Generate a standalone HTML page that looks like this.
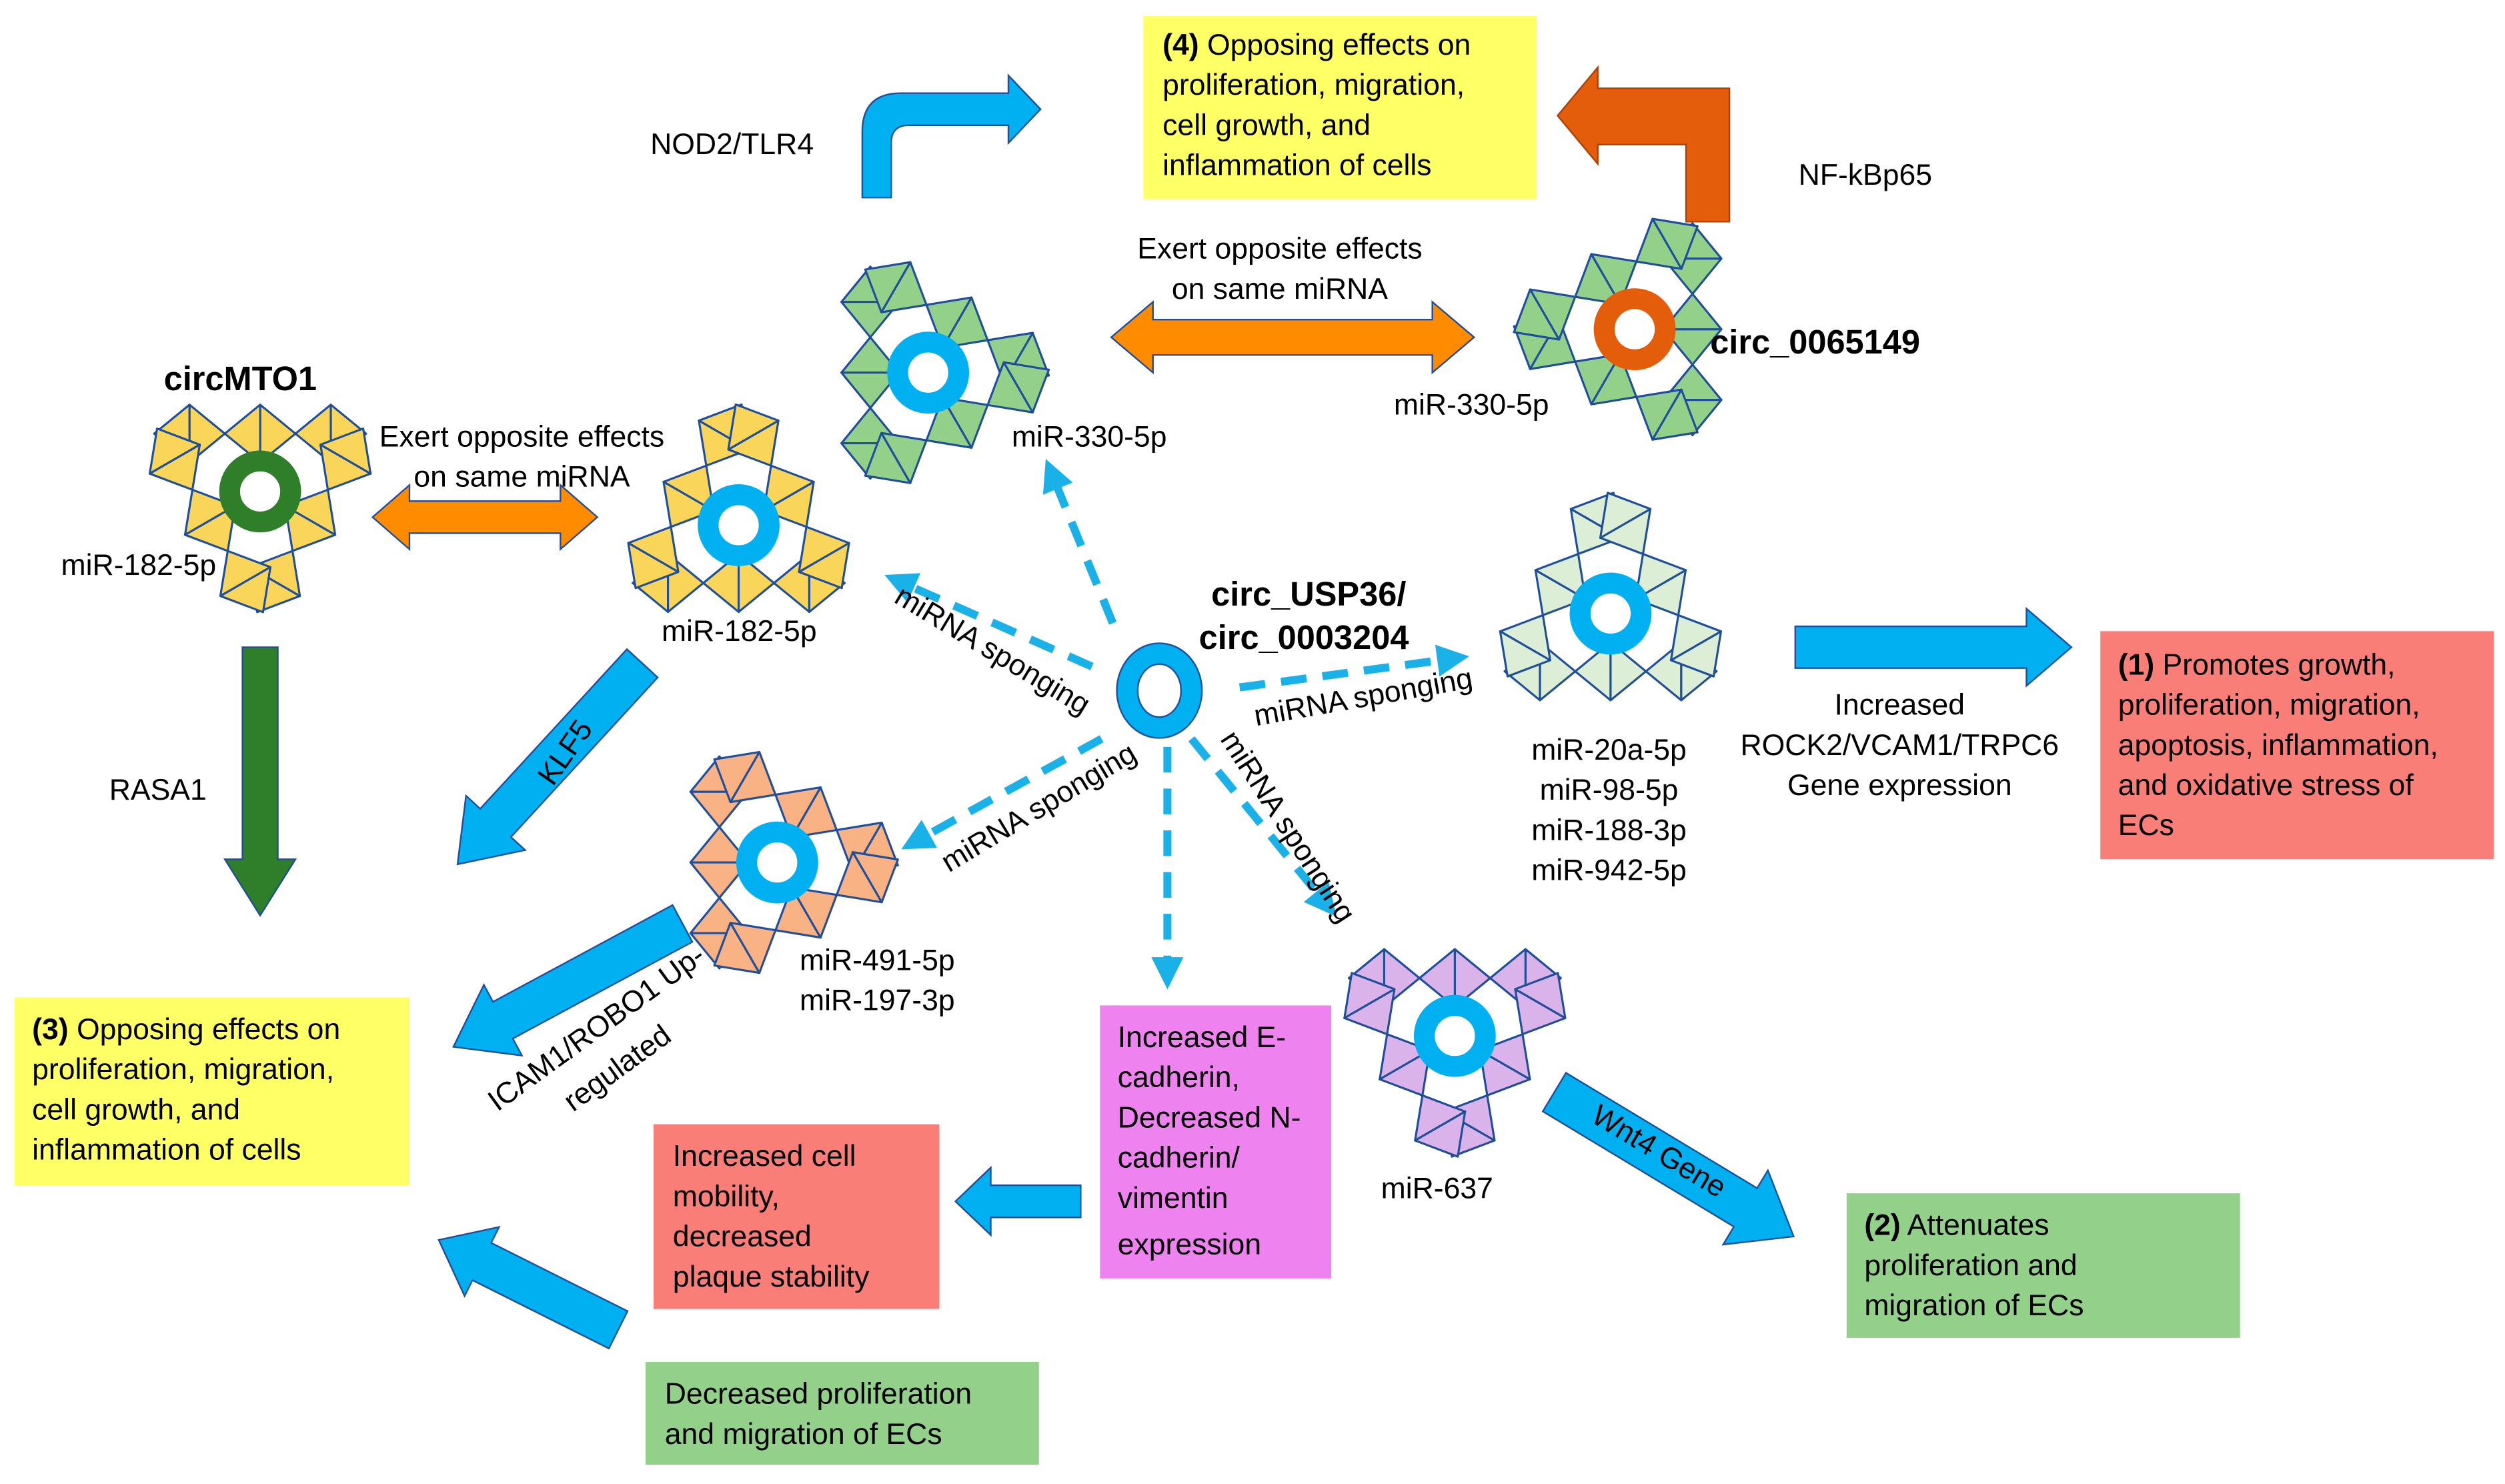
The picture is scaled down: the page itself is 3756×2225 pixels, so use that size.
<!DOCTYPE html>
<html><head><meta charset="utf-8"><style>
html,body{margin:0;padding:0;background:#fff}
svg{display:block}
text{font-family:"Liberation Sans",sans-serif;font-size:18.5px;fill:#000}
.b{font-weight:bold}
</style></head><body>
<svg width="3756" height="2225" viewBox="0 0 1560 924" preserveAspectRatio="none" xmlns="http://www.w3.org/2000/svg">
<defs>
<g id="dm" stroke="#1f4e9a" stroke-width="1.3" stroke-linejoin="round">
<polygon points="-22,36 0,18 0,54"/><polygon points="22,36 0,18 0,54"/>
</g>
<g id="side"><use href="#dm" x="-44"/><use href="#dm"/><use href="#dm" x="44"/></g>
<g id="cl"><use href="#side"/><use href="#side" transform="rotate(120)"/><use href="#side" transform="rotate(240)"/></g>
<marker id="ah" markerWidth="4" markerHeight="4" refX="2" refY="2" orient="auto" markerUnits="strokeWidth"><path d="M0,0 L4,2 L0,4 Z" fill="#1ab0e8"/></marker>
</defs>

<rect x="712" y="10" width="245" height="114" fill="#ffff66"/>
<text x="724" y="34"><tspan class="b">(4)</tspan> Opposing effects on</text>
<text x="724" y="59">proliferation, migration,</text>
<text x="724" y="84">cell growth, and</text>
<text x="724" y="109">inflammation of cells</text>

<rect x="1308" y="393" width="245" height="142" fill="#fa7e78"/>
<text x="1319" y="420"><tspan class="b">(1)</tspan> Promotes growth,</text>
<text x="1319" y="445">proliferation, migration,</text>
<text x="1319" y="470">apoptosis, inflammation,</text>
<text x="1319" y="495">and oxidative stress of</text>
<text x="1319" y="520">ECs</text>

<rect x="9" y="621" width="246" height="117" fill="#ffff66"/>
<text x="20" y="647"><tspan class="b">(3)</tspan> Opposing effects on</text>
<text x="20" y="672">proliferation, migration,</text>
<text x="20" y="697">cell growth, and</text>
<text x="20" y="722">inflammation of cells</text>

<rect x="685" y="626" width="144" height="170" fill="#ee82ee"/>
<text x="696" y="652">Increased E-</text>
<text x="696" y="677">cadherin,</text>
<text x="696" y="702">Decreased N-</text>
<text x="696" y="727">cadherin/</text>
<text x="696" y="752">vimentin</text>
<text x="696" y="781">expression</text>

<rect x="407" y="700" width="178" height="115" fill="#fa7e78"/>
<text x="419" y="726">Increased cell</text>
<text x="419" y="751">mobility,</text>
<text x="419" y="776">decreased</text>
<text x="419" y="801">plaque stability</text>

<rect x="402" y="848" width="245" height="64" fill="#93d18b"/>
<text x="414" y="874">Decreased proliferation</text>
<text x="414" y="899">and migration of ECs</text>

<rect x="1150" y="743" width="245" height="90" fill="#93d18b"/>
<text x="1161" y="769"><tspan class="b">(2)</tspan> Attenuates</text>
<text x="1161" y="794">proliferation and</text>
<text x="1161" y="819">migration of ECs</text>

<path d="M537,123 L537,82 Q537,58 561,58 L628,58 L628,47 L648,68 L628,89 L628,78 L566,78 Q555,78 555,89 L555,123 Z" fill="#00b0f0" stroke="#1f4e9a" stroke-width="1"/>
<path d="M1077,138 L1077,55 L995,55 L995,42 L970,72 L995,102 L995,90 L1050,90 L1050,138 Z" fill="#e35d0a" stroke="#b04000" stroke-width="1"/>
<text x="405" y="96">NOD2/TLR4</text>
<text x="1120" y="115">NF-kBp65</text>

<path d="M692,210 L718,188 L718,199 L892,199 L892,188 L918,210 L892,232 L892,221 L718,221 L718,232 Z" fill="#ff8c00" stroke="#1f4e9a" stroke-width="1"/>
<path d="M232,322 L255,302 L255,312 L349,312 L349,302 L372,322 L349,342 L349,332 L255,332 L255,342 Z" fill="#ff8c00" stroke="#1f4e9a" stroke-width="1"/>
<text x="797" y="161" text-anchor="middle">Exert opposite effects</text>
<text x="797" y="186" text-anchor="middle">on same miRNA</text>
<text x="325" y="278" text-anchor="middle">Exert opposite effects</text>
<text x="325" y="303" text-anchor="middle">on same miRNA</text>

<g fill="#00b0f0" stroke="#1f4e9a" stroke-width="1">
<polygon transform="translate(1118,403)" points="0,-13 144,-13 144,-24 172,0 144,24 144,13 0,13"/>
<polygon transform="translate(400,413) rotate(132.6)" points="0,-13 135,-13 135,-25 170,0 135,25 135,13 0,13"/>
<polygon transform="translate(425,575) rotate(151.7)" points="0,-13 127,-13 127,-25 162,0 127,25 127,13 0,13"/>
<polygon transform="translate(673,748) rotate(180)" points="0,-10 56,-10 56,-21 78,0 56,21 56,10 0,10"/>
<polygon transform="translate(385,828) rotate(206.6)" points="0,-13 95,-13 95,-24 125,0 95,24 95,13 0,13"/>
<polygon transform="translate(968,680) rotate(31.1)" points="0,-14 139,-14 139,-27 174,0 139,27 139,14 0,14"/>
</g>
<polygon transform="translate(162,403) rotate(90)" points="0,-11 132,-11 132,-22 167,0 132,22 132,11 0,11" fill="#2f7f2a" stroke="#1f4e9a" stroke-width="1"/>

<text x="68" y="498">RASA1</text>
<text transform="translate(357,472) rotate(-55)" text-anchor="middle">KLF5</text>
<text transform="translate(375,645) rotate(-36)" text-anchor="middle">ICAM1/ROBO1 Up-</text>
<text transform="translate(388,670) rotate(-36)" text-anchor="middle">regulated</text>
<text transform="translate(1030,722) rotate(31)" text-anchor="middle">Wnt4 Gene</text>
<text x="1183" y="445" text-anchor="middle">Increased</text>
<text x="1183" y="470" text-anchor="middle">ROCK2/VCAM1/TRPC6</text>
<text x="1183" y="495" text-anchor="middle">Gene expression</text>

<g stroke="#1ab0e8" stroke-width="5" stroke-dasharray="16 10" fill="none" marker-end="url(#ah)">
<line x1="693" y1="388" x2="655" y2="295"/>
<line x1="680" y1="415" x2="560" y2="362"/>
<line x1="772" y1="428" x2="905" y2="410"/>
<line x1="686" y1="460" x2="570" y2="524"/>
<line x1="727" y1="465" x2="727" y2="606"/>
<line x1="742" y1="460" x2="826" y2="563"/>
</g>
<text transform="translate(615,410) rotate(31)" text-anchor="middle">miRNA sponging</text>
<text transform="translate(850,440) rotate(-10)" text-anchor="middle">miRNA sponging</text>
<text transform="translate(650,508) rotate(-31)" text-anchor="middle">miRNA sponging</text>
<text transform="translate(797,518) rotate(57)" text-anchor="middle">miRNA sponging</text>

<ellipse cx="722" cy="430" rx="20" ry="23" fill="none" stroke="#00b0f0" stroke-width="13"/>
<ellipse cx="722" cy="430" rx="26.5" ry="29.5" fill="none" stroke="#1f4e9a" stroke-width="1"/>
<ellipse cx="722" cy="430" rx="13.5" ry="16.5" fill="none" stroke="#1f4e9a" stroke-width="1"/>
<text x="815" y="377" class="b" text-anchor="middle" style="font-size:21px">circ_USP36/</text>
<text x="812" y="404" class="b" text-anchor="middle" style="font-size:21px">circ_0003204</text>

<use href="#cl" fill="#93d18b" transform="translate(578,232) rotate(90)"/>
<circle cx="578" cy="232" r="19" fill="none" stroke="#00b0f0" stroke-width="13"/>
<text x="630" y="278">miR-330-5p</text>

<use href="#cl" fill="#93d18b" transform="translate(1018,205) rotate(-90)"/>
<circle cx="1018" cy="205" r="19" fill="none" stroke="#e35d0a" stroke-width="13"/>
<text x="1065" y="220" class="b" style="font-size:21px">circ_0065149</text>
<text x="868" y="258">miR-330-5p</text>

<use href="#cl" fill="#f9d55a" transform="translate(162,306) rotate(180)"/>
<circle cx="162" cy="306" r="19" fill="none" stroke="#2f7f2a" stroke-width="13"/>
<text x="102" y="243" class="b" style="font-size:21px">circMTO1</text>
<text x="38" y="358">miR-182-5p</text>

<use href="#cl" fill="#f9d55a" transform="translate(460,327)"/>
<circle cx="460" cy="327" r="19" fill="none" stroke="#00b0f0" stroke-width="13"/>
<text x="412" y="399">miR-182-5p</text>

<use href="#cl" fill="#dcefd6" transform="translate(1003,382)"/>
<circle cx="1003" cy="382" r="19" fill="none" stroke="#00b0f0" stroke-width="13"/>
<text x="1002" y="473" text-anchor="middle">miR-20a-5p</text>
<text x="1002" y="498" text-anchor="middle">miR-98-5p</text>
<text x="1002" y="523" text-anchor="middle">miR-188-3p</text>
<text x="1002" y="548" text-anchor="middle">miR-942-5p</text>

<use href="#cl" fill="#f8b283" transform="translate(484,537) rotate(90)"/>
<circle cx="484" cy="537" r="19" fill="none" stroke="#00b0f0" stroke-width="13"/>
<text x="498" y="604">miR-491-5p</text>
<text x="498" y="629">miR-197-3p</text>

<use href="#cl" fill="#d9b3ea" transform="translate(906,645) rotate(180)"/>
<circle cx="906" cy="645" r="19" fill="none" stroke="#00b0f0" stroke-width="13"/>
<text x="860" y="746">miR-637</text>
</svg>
</body></html>
